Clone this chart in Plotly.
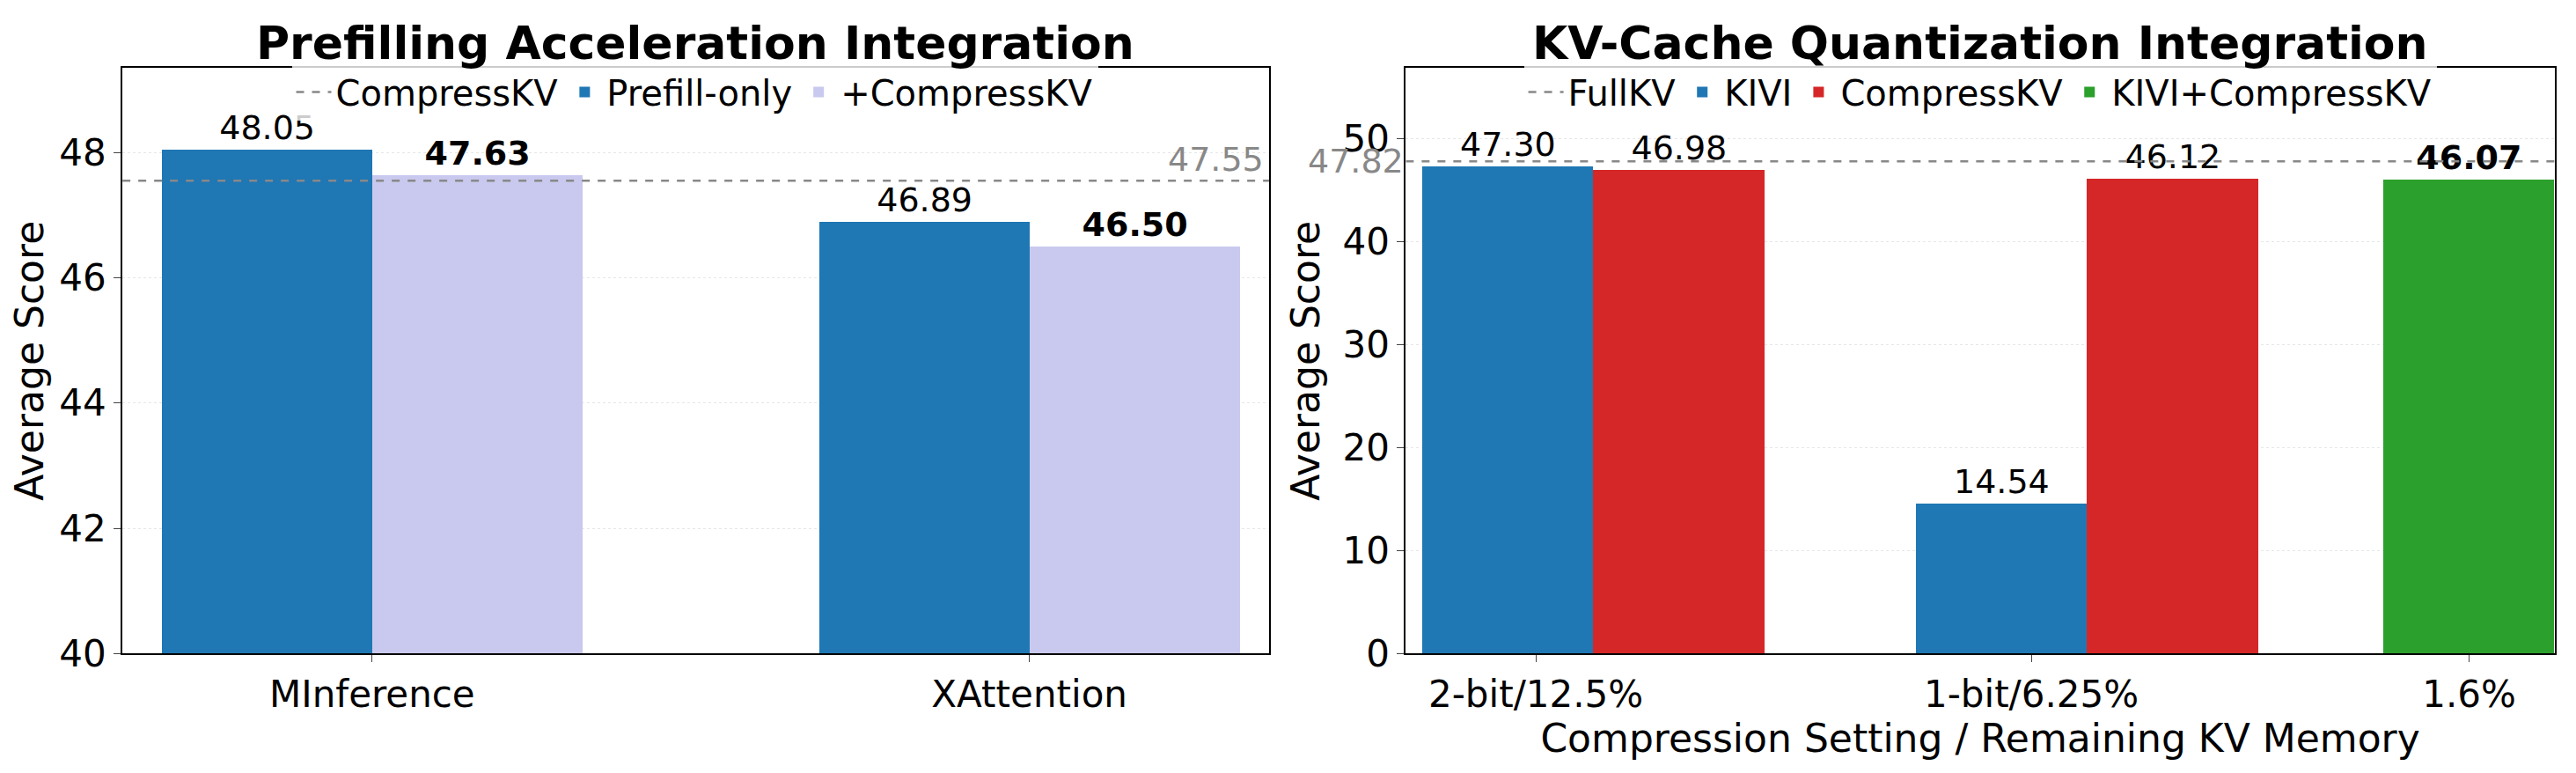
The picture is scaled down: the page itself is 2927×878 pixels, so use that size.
import plotly.graph_objects as go

# left panel data
methods = ["MInference", "XAttention"]
prefill_only = [48.05, 46.89]
plus_compresskv = [47.63, 46.50]
compresskv_ref = 47.55

# right panel data
settings = ["2-bit/12.5%", "1-bit/6.25%", "1.6%"]
kivi = [47.30, 14.54]
compresskv = [46.98, 46.12]
kivi_compresskv = [46.07]
fullkv_ref = 47.82

# bar positions on the right numeric axis
kivi_x = [9.14, 12.14]
ckv_x = [10.18, 13.18]
combo_x = [14.98]
tick_x = [9.31, 12.32, 14.98]

BLUE, LAV, RED, GREEN, GRAY = "#1f77b4", "#c9c9ef", "#d62728", "#2ca02c", "#888888"
FONT = "DejaVu Sans"
TS = 42

fig = go.Figure()

# left
fig.add_trace(go.Scatter(x=[-0.38, 1.365], y=[compresskv_ref] * 2, mode="lines",
                         line=dict(color=GRAY, dash="dash", width=2.5), name="CompressKV",
                         legend="legend", xaxis="x", yaxis="y"))
fig.add_trace(go.Bar(x=[-0.16, 0.84], y=prefill_only, width=0.32, marker_color=BLUE,
                     name="Prefill-only", text=[f"{v:.2f}" for v in prefill_only],
                     textposition="outside", legend="legend", xaxis="x", yaxis="y"))
fig.add_trace(go.Bar(x=[0.16, 1.16], y=plus_compresskv, width=0.32, marker_color=LAV,
                     name="+CompressKV", text=[f"<b>{v:.2f}</b>" for v in plus_compresskv],
                     textposition="outside", legend="legend", xaxis="x", yaxis="y"))

# right
fig.add_trace(go.Scatter(x=[8.52, 15.5], y=[fullkv_ref] * 2, mode="lines",
                         line=dict(color=GRAY, dash="dash", width=2.5), name="FullKV",
                         legend="legend2", xaxis="x2", yaxis="y2"))
fig.add_trace(go.Bar(x=kivi_x, y=kivi, width=1.04, marker_color=BLUE, name="KIVI",
                     text=[f"{v:.2f}" for v in kivi], textposition="outside",
                     legend="legend2", xaxis="x2", yaxis="y2"))
fig.add_trace(go.Bar(x=ckv_x, y=compresskv, width=1.04, marker_color=RED, name="CompressKV",
                     text=[f"{v:.2f}" for v in compresskv], textposition="outside",
                     legend="legend2", xaxis="x2", yaxis="y2"))
fig.add_trace(go.Bar(x=combo_x, y=kivi_compresskv, width=1.04, marker_color=GREEN,
                     name="KIVI+CompressKV", text=[f"<b>{v:.2f}</b>" for v in kivi_compresskv],
                     textposition="outside", legend="legend2", xaxis="x2", yaxis="y2"))

fig.update_traces(selector=dict(type="bar"), textfont=dict(size=38, color="black"),
                  cliponaxis=False, marker_line_width=0)

axis_common = dict(showline=True, linecolor="black", linewidth=2, mirror=True,
                   ticks="outside", ticklen=8, tickfont=dict(size=TS, color="black"))
grid = dict(showgrid=True, gridcolor="#e6e6e6", griddash="dot", zeroline=False)

fig.update_layout(
    width=2927, height=878, margin=dict(l=0, r=0, t=0, b=0),
    plot_bgcolor="white", paper_bgcolor="white",
    font=dict(family=FONT, color="black"),
    barmode="overlay", bargap=0,
    xaxis=dict(domain=[0.0448, 0.49], range=[-0.38, 1.365], tickvals=[0, 1],
               ticktext=methods, showgrid=False, anchor="y", **axis_common),
    yaxis=dict(domain=[0.139, 0.919], range=[40, 49.35], dtick=2, anchor="x",
               title=dict(text="Average Score", font=dict(size=44), standoff=12),
               **axis_common, **grid),
    xaxis2=dict(domain=[0.543, 0.989], range=[8.52, 15.5], tickvals=tick_x,
                ticktext=settings, showgrid=False, anchor="y2",
                title=dict(text="Compression Setting / Remaining KV Memory",
                           font=dict(size=44), standoff=2),
                **axis_common),
    yaxis2=dict(domain=[0.139, 0.919], range=[0, 56.9], dtick=10, anchor="x2",
                title=dict(text="Average Score", font=dict(size=44), standoff=12),
                **axis_common, **grid),
    legend=dict(orientation="h", x=0.267, xanchor="center", y=0.925, yanchor="top",
                font=dict(size=40), bgcolor="rgba(255,255,255,0.8)",
                itemwidth=40, tracegroupgap=0),
    legend2=dict(orientation="h", x=0.766, xanchor="center", y=0.925, yanchor="top",
                 font=dict(size=40), bgcolor="rgba(255,255,255,0.8)",
                 itemwidth=40, tracegroupgap=0),
    annotations=[
        dict(text="<b>Prefilling Acceleration Integration</b>", xref="paper", yref="paper",
             x=0.267, xanchor="center", y=0.915, yanchor="bottom", showarrow=False,
             font=dict(size=52)),
        dict(text="<b>KV-Cache Quantization Integration</b>", xref="paper", yref="paper",
             x=0.766, xanchor="center", y=0.915, yanchor="bottom", showarrow=False,
             font=dict(size=52)),
        dict(text=f"{compresskv_ref:.2f}", xref="x", yref="y", x=1.36, y=compresskv_ref,
             xanchor="right", yanchor="bottom", showarrow=False,
             font=dict(size=38, color=GRAY)),
        dict(text=f"{fullkv_ref:.2f}", xref="x2", yref="y2", x=8.52, y=fullkv_ref,
             xanchor="right", yanchor="middle", showarrow=False,
             font=dict(size=38, color=GRAY)),
    ],
)

fig.write_html("out.html")
